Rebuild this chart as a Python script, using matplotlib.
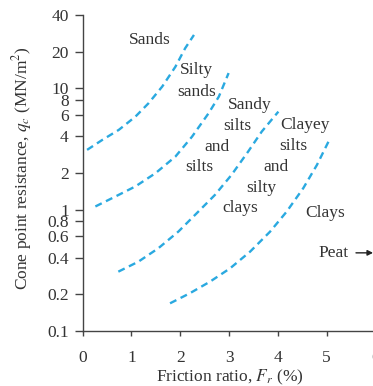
import matplotlib.pyplot as plt

plt.rcParams["font.family"] = ["Liberation Serif", "DejaVu Serif"]
plt.rcParams["mathtext.fontset"] = "stix"

# boundary curves (friction ratio %, cone resistance MN/m2)
curve1_x = [0.09, 0.40, 0.74, 1.08, 1.35, 1.63, 1.90, 2.10, 2.28]
curve1_y = [3.10, 3.74, 4.53, 5.82, 7.51, 10.3, 15.0, 21.3, 27.4]
curve2_x = [0.26, 0.67, 1.08, 1.49, 1.90, 2.24, 2.58, 2.79, 2.99]
curve2_y = [1.06, 1.28, 1.55, 1.99, 2.73, 3.98, 6.21, 8.51, 13.3]
curve3_x = [0.73, 1.14, 1.55, 1.96, 2.37, 2.71, 3.05, 3.39, 3.67, 4.01]
curve3_y = [0.308, 0.372, 0.480, 0.658, 0.962, 1.32, 1.93, 3.00, 4.39, 6.40]
curve4_x = [1.79, 2.20, 2.61, 3.02, 3.43, 3.84, 4.18, 4.52, 4.80, 5.07]
curve4_y = [0.169, 0.205, 0.255, 0.328, 0.450, 0.658, 0.962, 1.50, 2.33, 3.86]

y_ticks = [0.1, 0.2, 0.4, 0.6, 0.8, 1, 2, 4, 6, 8, 10, 20, 40]
y_tick_labels = ["0.1", "0.2", "0.4", "0.6", "0.8", "1", "2", "4", "6", "8", "10", "20", "40"]
x_ticks = [0, 1, 2, 3, 4, 5, 6]

# zone labels, one word per entry
zone_words = ["Sands", "Silty", "sands", "Sandy", "silts", "and", "silts",
              "Clayey", "silts", "and", "silty", "clays", "Clays"]
zone_x = [1.38, 2.34, 2.34, 3.43, 3.16, 2.75, 2.38, 4.56, 4.31, 3.96, 3.67, 3.22, 4.96]
zone_y = [24.9, 14.1, 9.3, 7.3, 4.9, 3.3, 2.24, 4.97, 3.34, 2.24, 1.51, 1.03, 0.94]

line_color = "#2aa9e0"
text_color = "#333333"

fig = plt.figure(figsize=(3.73, 3.86), dpi=100)
ax = fig.add_axes([0.2217, 0.1425, 0.785, 0.8187])

for xs, ys in [(curve1_x, curve1_y), (curve2_x, curve2_y),
               (curve3_x, curve3_y), (curve4_x, curve4_y)]:
    ax.plot(xs, ys, color=line_color, lw=1.7, linestyle=(0, (3, 2)),
            dash_capstyle="butt", dash_joinstyle="round")

for word, x, y in zip(zone_words, zone_x, zone_y):
    ax.text(x, y, word, ha="center", va="center", fontsize=12.5, color=text_color)

# Peat lies off the chart to the right
ax.text(4.84, 0.44, "Peat", ha="left", va="center", fontsize=12.5, color=text_color)
ax.annotate("", xy=(5.95, 0.44), xytext=(5.6, 0.44), annotation_clip=False,
            arrowprops=dict(arrowstyle="-|>", color="#222222", lw=1.0,
                            mutation_scale=8, shrinkA=0, shrinkB=0))

ax.set_yscale("log")
ax.set_ylim(0.1, 40)
ax.set_xlim(0, 6)
ax.set_yticks(y_ticks)
ax.set_yticklabels(y_tick_labels)
ax.minorticks_off()
ax.set_xticks(x_ticks)
ax.set_xticklabels([str(t) for t in x_ticks])

for side in ["top", "right"]:
    ax.spines[side].set_visible(False)
for side in ["left", "bottom"]:
    ax.spines[side].set_color("#444444")
    ax.spines[side].set_linewidth(1.0)

ax.tick_params(axis="y", direction="out", length=6, width=1.0, pad=4,
               labelsize=12.5, colors="#444444", labelcolor=text_color)
ax.tick_params(axis="x", direction="out", length=3.5, width=1.0, pad=10,
               labelsize=12.5, colors="#444444", labelcolor=text_color)

ax.set_ylabel("Cone point resistance, $q_c$ (MN/m$^2$)", fontsize=12.5, color=text_color)
ax.yaxis.set_label_coords(-0.165, 0.516)
ax.set_xlabel("Friction ratio, $F_r$ (%)", fontsize=12.5, color=text_color)
ax.xaxis.set_label_coords(0.503, -0.115)

fig.savefig("out.png", dpi=100)
